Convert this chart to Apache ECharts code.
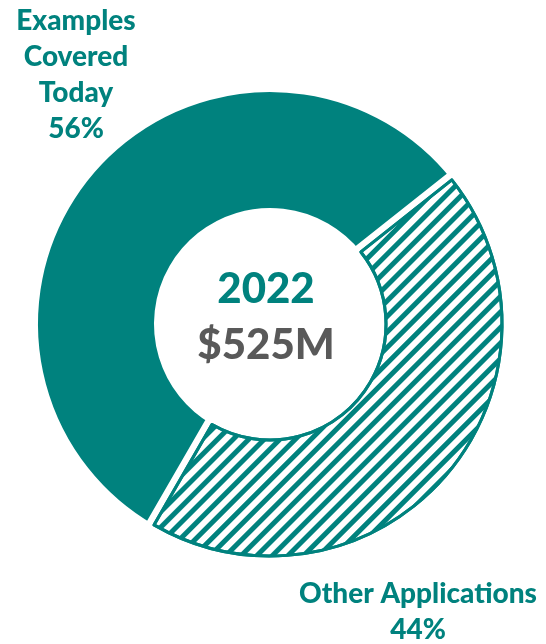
<!DOCTYPE html>
<html>
<head>
<meta charset="utf-8">
<script src="https://cdn.jsdelivr.net/npm/echarts@6/dist/echarts.min.js"></script>
<style>
  html, body { margin: 0; padding: 0; background: #ffffff; }
  #chart { width: 546px; height: 644px; }
</style>
</head>
<body>
<div id="chart"></div>
<script>
// Market split by application
const categories = ['Examples Covered Today', 'Other Applications'];
const labelNames = ['Examples\nCovered\nToday', 'Other Applications'];
const shares = [56, 44];
const centerYear = '2022';
const centerTotal = '$525M';

const TEAL = '#00827e';
const GREY = '#595959';
const FONT = 'Lato';

const chart = echarts.init(document.getElementById('chart'), null, { renderer: 'canvas' });

const center = [270, 324];
const rIn = 116, rOut = 232, gap = 8;

// Solid slice: drawn slightly oversize, then trimmed by a white border to open the gap
const solidData = categories.map((name, i) => ({
  name,
  value: shares[i],
  itemStyle: i === 0
    ? { color: TEAL, borderColor: '#ffffff', borderWidth: gap * 2 }
    : { color: 'transparent', borderWidth: 0 }
}));

// Hatched slice with outline, plus the labels for both slices
const hatchData = categories.map((name, i) => ({
  name,
  value: shares[i],
  itemStyle: i === 1
    ? {
        color: '#ffffff',
        borderColor: TEAL,
        borderWidth: 3,
        decal: {
          symbol: 'rect',
          symbolSize: 1,
          color: TEAL,
          dashArrayX: [1, 0],
          dashArrayY: [5, 6],
          rotation: -Math.PI / 4
        }
      }
    : { color: 'transparent', borderWidth: 0 }
}));

const labelSpots = [
  { x: 76, y: 75 },
  { x: 418, y: 612 }
];

const option = {
  animation: false,
  backgroundColor: '#ffffff',
  series: [
    {
      type: 'pie',
      z: 1,
      center: center,
      radius: [rIn - gap, rOut + gap],
      startAngle: 240,
      clockwise: true,
      silent: true,
      label: { show: false },
      labelLine: { show: false },
      data: solidData
    },
    {
      type: 'pie',
      z: 2,
      center: center,
      radius: [rIn, rOut],
      startAngle: 240,
      clockwise: true,
      silent: true,
      labelLine: { show: false },
      label: {
        show: true,
        position: 'inside',
        color: TEAL,
        fontFamily: FONT,
        fontWeight: 900,
        fontSize: 28,
        lineHeight: 36,
        align: 'center',
        overflow: 'none',
        formatter: (p) => labelNames[p.dataIndex] + '\n' + p.value + '%'
      },
      labelLayout: (p) => ({
        x: labelSpots[p.dataIndex].x,
        y: labelSpots[p.dataIndex].y,
        align: 'center',
        verticalAlign: 'middle'
      }),
      data: hatchData
    }
  ],
  graphic: [
    {
      type: 'text',
      x: 266,
      y: 289,
      style: {
        text: centerYear,
        fill: TEAL,
        font: '900 42px ' + FONT,
        textAlign: 'center',
        textVerticalAlign: 'middle'
      }
    },
    {
      type: 'text',
      x: 266,
      y: 345,
      style: {
        text: centerTotal,
        fill: GREY,
        font: '900 42px ' + FONT,
        textAlign: 'center',
        textVerticalAlign: 'middle'
      }
    }
  ]
};

chart.setOption(option);
</script>
</body>
</html>
